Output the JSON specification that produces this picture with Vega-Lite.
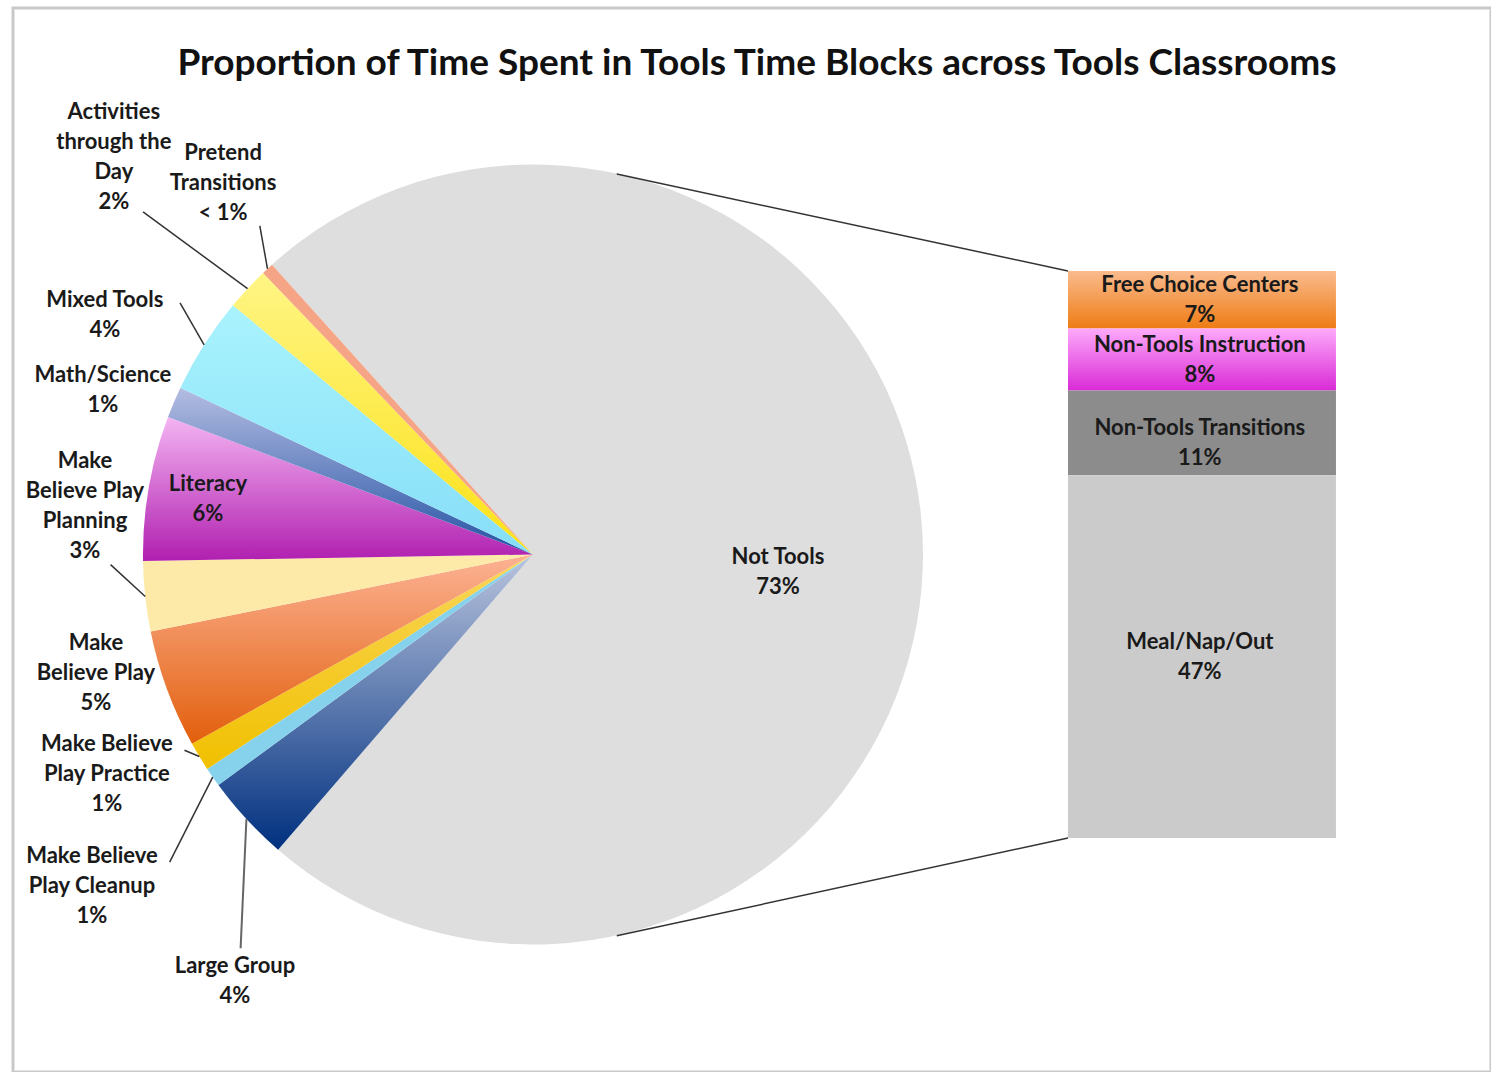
{
  "$schema": "https://vega.github.io/schema/vega-lite/v6.json",
  "width": 1478,
  "height": 1064,
  "padding": {"left": 13, "top": 8, "right": 0, "bottom": 0},
  "autosize": {"type": "none"},
  "background": "white",
  "config": {"view": {"stroke": "#c9c9c9", "strokeWidth": 3}},
  "title": {"text": "Proportion of Time Spent in Tools Time Blocks across Tools Classrooms", "font": "Lato", "fontSize": 37, "fontWeight": "bold", "color": "#111111", "anchor": "middle", "offset": -75, "dx": 5},
  "datasets": {
    "tools": [
      {"cat": "Not Tools", "pct": 73.0, "label": "Not Tools\n73%"},
      {"cat": "Large Group", "pct": 3.6, "label": "Large Group\n4%"},
      {"cat": "Make Believe Play Cleanup", "pct": 0.8, "label": "Make Believe\nPlay Cleanup\n1%"},
      {"cat": "Make Believe Play Practice", "pct": 1.2, "label": "Make Believe\nPlay Practice\n1%"},
      {"cat": "Make Believe Play", "pct": 4.9, "label": "Make\nBelieve Play\n5%"},
      {"cat": "Make Believe Play Planning", "pct": 2.9, "label": "Make\nBelieve Play\nPlanning\n3%"},
      {"cat": "Literacy", "pct": 6.0, "label": "Literacy\n6%"},
      {"cat": "Math/Science", "pct": 1.3, "label": "Math/Science\n1%"},
      {"cat": "Mixed Tools", "pct": 4.0, "label": "Mixed Tools\n4%"},
      {"cat": "Activities through the Day", "pct": 1.8, "label": "Activities\nthrough the\nDay\n2%"},
      {"cat": "Pretend Transitions", "pct": 0.5, "label": "Pretend\nTransitions\n< 1%"}
    ],
    "notTools": [
      {"cat": "Free Choice Centers", "pct": 7.4, "label": "Free Choice Centers\n7%"},
      {"cat": "Non-Tools Instruction", "pct": 8.0, "label": "Non-Tools Instruction\n8%"},
      {"cat": "Non-Tools Transitions", "pct": 10.9, "label": "Non-Tools Transitions\n11%"},
      {"cat": "Meal/Nap/Out", "pct": 46.7, "label": "Meal/Nap/Out\n47%"}
    ]
  },
  "layer": [
    {
      "data": {"name": "tools"},
      "transform": [
        {"window": [{"op": "row_number", "as": "idx"}]},
        {"stack": "pct", "groupby": [], "sort": [{"field": "idx", "order": "ascending"}], "as": ["s0", "s1"]},
        {"calculate": "(datum.s0 + datum.s1) / 2", "as": "mid"}
      ],
      "layer": [
        {
          "encoding": {
            "x": {"datum": 35.18, "type": "quantitative", "scale": {"domain": [0, 100], "nice": false, "zero": false}, "axis": null},
            "y": {"datum": 36.5, "type": "quantitative", "scale": {"domain": [-30.13, 106.86], "nice": false, "zero": false}, "axis": null},
            "theta": {"field": "s0", "type": "quantitative", "scale": {"domain": [0, 100], "range": [-0.733, 5.5502]}},
            "theta2": {"field": "s1"}
          },
          "layer": [
            {"transform": [{"filter": "datum.cat === 'Not Tools'"}], "mark": {"type": "arc", "radius": 390, "color": "#dedede"}},
            {"transform": [{"filter": "datum.cat === 'Large Group'"}], "mark": {"type": "arc", "radius": 390, "color": {"gradient": "linear", "x1": 0, "y1": 0, "x2": 0, "y2": 1, "stops": [{"offset": 0, "color": "#b9c4de"}, {"offset": 1, "color": "#00307f"}]}}},
            {"transform": [{"filter": "datum.cat === 'Make Believe Play Cleanup'"}], "mark": {"type": "arc", "radius": 390, "color": "#86d2ec"}},
            {"transform": [{"filter": "datum.cat === 'Make Believe Play Practice'"}], "mark": {"type": "arc", "radius": 390, "color": {"gradient": "linear", "x1": 0, "y1": 0, "x2": 0, "y2": 1, "stops": [{"offset": 0, "color": "#f9d65a"}, {"offset": 1, "color": "#f1c000"}]}}},
            {"transform": [{"filter": "datum.cat === 'Make Believe Play'"}], "mark": {"type": "arc", "radius": 390, "color": {"gradient": "linear", "x1": 0, "y1": 0, "x2": 0, "y2": 1, "stops": [{"offset": 0, "color": "#fcb294"}, {"offset": 1, "color": "#e25f0c"}]}}},
            {"transform": [{"filter": "datum.cat === 'Make Believe Play Planning'"}], "mark": {"type": "arc", "radius": 390, "color": "#fde9a8"}},
            {"transform": [{"filter": "datum.cat === 'Literacy'"}], "mark": {"type": "arc", "radius": 390, "color": {"gradient": "linear", "x1": 0, "y1": 0, "x2": 0, "y2": 1, "stops": [{"offset": 0, "color": "#f4b4f2"}, {"offset": 1, "color": "#b01fb0"}]}}},
            {"transform": [{"filter": "datum.cat === 'Math/Science'"}], "mark": {"type": "arc", "radius": 390, "color": {"gradient": "linear", "x1": 0, "y1": 0, "x2": 0, "y2": 1, "stops": [{"offset": 0, "color": "#b4bde2"}, {"offset": 1, "color": "#2452a4"}]}}},
            {"transform": [{"filter": "datum.cat === 'Mixed Tools'"}], "mark": {"type": "arc", "radius": 390, "color": {"gradient": "linear", "x1": 0, "y1": 0, "x2": 0, "y2": 1, "stops": [{"offset": 0, "color": "#a9f3fd"}, {"offset": 1, "color": "#86def8"}]}}},
            {"transform": [{"filter": "datum.cat === 'Activities through the Day'"}], "mark": {"type": "arc", "radius": 390, "color": {"gradient": "linear", "x1": 0, "y1": 0, "x2": 0, "y2": 1, "stops": [{"offset": 0, "color": "#fff585"}, {"offset": 1, "color": "#fbe116"}]}}},
            {"transform": [{"filter": "datum.cat === 'Pretend Transitions'"}], "mark": {"type": "arc", "radius": 390, "color": "#f5a585"}}
          ]
        },
        {
          "transform": [
            {"calculate": "-0.733 + datum.mid / 100 * 2 * PI", "as": "t"},
            {"calculate": "35.18 + 390 * sin(datum.t) / 14.78", "as": "xa"},
            {"calculate": "36.5 + 390 * cos(datum.t) / 7.767", "as": "ya"}
          ],
          "encoding": {
            "x": {"field": "xa", "type": "quantitative", "scale": {"domain": [0, 100], "nice": false, "zero": false}, "axis": null},
            "y": {"field": "ya", "type": "quantitative", "scale": {"domain": [-30.13, 106.86], "nice": false, "zero": false}, "axis": null}
          },
          "layer": [
            {"transform": [{"filter": "datum.cat === 'Activities through the Day'"}], "mark": {"type": "rule", "color": "#333333", "strokeWidth": 1.5}, "encoding": {"x2": {"datum": 8.8}, "y2": {"datum": 80.6}}},
            {"transform": [{"filter": "datum.cat === 'Pretend Transitions'"}], "mark": {"type": "rule", "color": "#333333", "strokeWidth": 1.5}, "encoding": {"x2": {"datum": 16.7}, "y2": {"datum": 78.8}}},
            {"transform": [{"filter": "datum.cat === 'Mixed Tools'"}], "mark": {"type": "rule", "color": "#333333", "strokeWidth": 1.5}, "encoding": {"x2": {"datum": 11.3}, "y2": {"datum": 68.9}}},
            {"transform": [{"filter": "datum.cat === 'Make Believe Play Planning'"}], "mark": {"type": "rule", "color": "#333333", "strokeWidth": 1.5}, "encoding": {"x2": {"datum": 6.6}, "y2": {"datum": 35.2}}},
            {"transform": [{"filter": "datum.cat === 'Make Believe Play Practice'"}], "mark": {"type": "rule", "color": "#333333", "strokeWidth": 1.5}, "encoding": {"x2": {"datum": 11.6}, "y2": {"datum": 11.3}}},
            {"transform": [{"filter": "datum.cat === 'Make Believe Play Cleanup'"}], "mark": {"type": "rule", "color": "#333333", "strokeWidth": 1.5}, "encoding": {"x2": {"datum": 10.6}, "y2": {"datum": -3.1}}},
            {"transform": [{"filter": "datum.cat === 'Large Group'"}], "mark": {"type": "rule", "color": "#666666", "strokeWidth": 2}, "encoding": {"x2": {"datum": 15.4}, "y2": {"datum": -14.2}}}
          ]
        },
        {
          "encoding": {
            "x": {"datum": 35.18, "type": "quantitative", "scale": {"domain": [0, 100], "nice": false, "zero": false}, "axis": null},
            "y": {"datum": 36.5, "type": "quantitative", "scale": {"domain": [-30.13, 106.86], "nice": false, "zero": false}, "axis": null},
            "theta": {"field": "mid", "type": "quantitative", "scale": {"domain": [0, 100], "range": [-0.733, 5.5502]}, "stack": null},
            "text": {"field": "label"}
          },
          "layer": [
            {"transform": [{"filter": "datum.cat === 'Not Tools'"}], "mark": {"type": "text", "radius": 245.6, "thetaOffset": 0.08, "dy": -15, "font": "Lato", "fontWeight": "bold", "fontSize": 22, "lineHeight": 30, "lineBreak": "\n", "align": "center", "baseline": "middle", "color": "#1a1a1a"}},
            {"transform": [{"filter": "datum.cat === 'Large Group'"}], "mark": {"type": "text", "radius": 520, "thetaOffset": -0.215, "dy": -15, "font": "Lato", "fontWeight": "bold", "fontSize": 22, "lineHeight": 30, "lineBreak": "\n", "align": "center", "baseline": "middle", "color": "#1a1a1a"}},
            {"transform": [{"filter": "datum.cat === 'Make Believe Play Cleanup'"}], "mark": {"type": "text", "radius": 552, "thetaOffset": -0.038, "dy": -30, "font": "Lato", "fontWeight": "bold", "fontSize": 22, "lineHeight": 30, "lineBreak": "\n", "align": "center", "baseline": "middle", "color": "#1a1a1a"}},
            {"transform": [{"filter": "datum.cat === 'Make Believe Play Practice'"}], "mark": {"type": "text", "radius": 479.5, "thetaOffset": 0.068, "dy": -30, "font": "Lato", "fontWeight": "bold", "fontSize": 22, "lineHeight": 30, "lineBreak": "\n", "align": "center", "baseline": "middle", "color": "#1a1a1a"}},
            {"transform": [{"filter": "datum.cat === 'Make Believe Play'"}], "mark": {"type": "text", "radius": 452.7, "thetaOffset": 0.089, "dy": -30, "font": "Lato", "fontWeight": "bold", "fontSize": 22, "lineHeight": 30, "lineBreak": "\n", "align": "center", "baseline": "middle", "color": "#1a1a1a"}},
            {"transform": [{"filter": "datum.cat === 'Make Believe Play Planning'"}], "mark": {"type": "text", "radius": 450.6, "thetaOffset": 0.216, "dy": -45, "font": "Lato", "fontWeight": "bold", "fontSize": 22, "lineHeight": 30, "lineBreak": "\n", "align": "center", "baseline": "middle", "color": "#1a1a1a"}},
            {"transform": [{"filter": "datum.cat === 'Literacy'"}], "mark": {"type": "text", "radius": 329.6, "thetaOffset": -0.004, "dy": -15, "font": "Lato", "fontWeight": "bold", "fontSize": 22, "lineHeight": 30, "lineBreak": "\n", "align": "center", "baseline": "middle", "color": "#1a1a1a"}},
            {"transform": [{"filter": "datum.cat === 'Math/Science'"}], "mark": {"type": "text", "radius": 460.6, "thetaOffset": -0.035, "dy": -15, "font": "Lato", "fontWeight": "bold", "fontSize": 22, "lineHeight": 30, "lineBreak": "\n", "align": "center", "baseline": "middle", "color": "#1a1a1a"}},
            {"transform": [{"filter": "datum.cat === 'Mixed Tools'"}], "mark": {"type": "text", "radius": 490.7, "thetaOffset": -0.057, "dy": -15, "font": "Lato", "fontWeight": "bold", "fontSize": 22, "lineHeight": 30, "lineBreak": "\n", "align": "center", "baseline": "middle", "color": "#1a1a1a"}},
            {"transform": [{"filter": "datum.cat === 'Activities through the Day'"}], "mark": {"type": "text", "radius": 577.6, "thetaOffset": 0.009, "dy": -45, "font": "Lato", "fontWeight": "bold", "fontSize": 22, "lineHeight": 30, "lineBreak": "\n", "align": "center", "baseline": "middle", "color": "#1a1a1a"}},
            {"transform": [{"filter": "datum.cat === 'Pretend Transitions'"}], "mark": {"type": "text", "radius": 483.5, "thetaOffset": 0.053, "dy": -30, "font": "Lato", "fontWeight": "bold", "fontSize": 22, "lineHeight": 30, "lineBreak": "\n", "align": "center", "baseline": "middle", "color": "#1a1a1a"}}
          ]
        }
      ]
    },
    {
      "data": {"name": "notTools"},
      "transform": [
        {"window": [{"op": "row_number", "as": "idx"}]},
        {"stack": "pct", "groupby": [], "sort": [{"field": "idx", "order": "descending"}], "as": ["s0", "s1"]},
        {"calculate": "(datum.s0 + datum.s1) / 2", "as": "mid"}
      ],
      "layer": [
        {
          "encoding": {
            "x": {"datum": 71.38, "type": "quantitative", "scale": {"domain": [0, 100], "nice": false, "zero": false}, "axis": null},
            "x2": {"datum": 89.51},
            "y": {"field": "s0", "type": "quantitative", "scale": {"domain": [-30.13, 106.86], "nice": false, "zero": false}, "axis": null},
            "y2": {"field": "s1"}
          },
          "layer": [
            {"transform": [{"filter": "datum.cat === 'Free Choice Centers'"}], "mark": {"type": "rect", "color": {"gradient": "linear", "x1": 0, "y1": 0, "x2": 0, "y2": 1, "stops": [{"offset": 0, "color": "#fabb8e"}, {"offset": 1, "color": "#ee7c14"}]}}},
            {"transform": [{"filter": "datum.cat === 'Non-Tools Instruction'"}], "mark": {"type": "rect", "color": {"gradient": "linear", "x1": 0, "y1": 0, "x2": 0, "y2": 1, "stops": [{"offset": 0, "color": "#fdaafa"}, {"offset": 1, "color": "#d92bd6"}]}}},
            {"transform": [{"filter": "datum.cat === 'Non-Tools Transitions'"}], "mark": {"type": "rect", "color": "#8c8c8c"}},
            {"transform": [{"filter": "datum.cat === 'Meal/Nap/Out'"}], "mark": {"type": "rect", "color": "#cbcbcb"}}
          ]
        },
        {
          "encoding": {
            "x": {"datum": 80.3, "type": "quantitative", "scale": {"domain": [0, 100], "nice": false, "zero": false}, "axis": null},
            "y": {"field": "mid", "type": "quantitative", "scale": {"domain": [-30.13, 106.86], "nice": false, "zero": false}, "axis": null},
            "text": {"field": "label"}
          },
          "layer": [
            {"transform": [{"filter": "datum.cat !== 'Non-Tools Transitions'"}], "mark": {"type": "text", "dy": -15, "font": "Lato", "fontWeight": "bold", "fontSize": 22, "lineHeight": 30, "lineBreak": "\n", "align": "center", "baseline": "middle", "color": "#1a1a1a"}},
            {"transform": [{"filter": "datum.cat === 'Non-Tools Transitions'"}], "mark": {"type": "text", "dy": -5, "font": "Lato", "fontWeight": "bold", "fontSize": 22, "lineHeight": 30, "lineBreak": "\n", "align": "center", "baseline": "middle", "color": "#1a1a1a"}}
          ]
        }
      ]
    },
    {
      "data": {"values": [{"link": "Not Tools"}]},
      "mark": {"type": "rule", "color": "#333333", "strokeWidth": 1.5},
      "encoding": {
        "x": {"datum": 40.85, "type": "quantitative", "scale": {"domain": [0, 100], "nice": false, "zero": false}, "axis": null},
        "y": {"datum": 85.48, "type": "quantitative", "scale": {"domain": [-30.13, 106.86], "nice": false, "zero": false}, "axis": null},
        "x2": {"datum": 71.38},
        "y2": {"datum": 73}
      }
    },
    {
      "data": {"values": [{"link": "Not Tools"}]},
      "mark": {"type": "rule", "color": "#333333", "strokeWidth": 1.5},
      "encoding": {
        "x": {"datum": 40.85, "type": "quantitative", "scale": {"domain": [0, 100], "nice": false, "zero": false}, "axis": null},
        "y": {"datum": -12.6, "type": "quantitative", "scale": {"domain": [-30.13, 106.86], "nice": false, "zero": false}, "axis": null},
        "x2": {"datum": 71.38},
        "y2": {"datum": 0}
      }
    }
  ]
}
